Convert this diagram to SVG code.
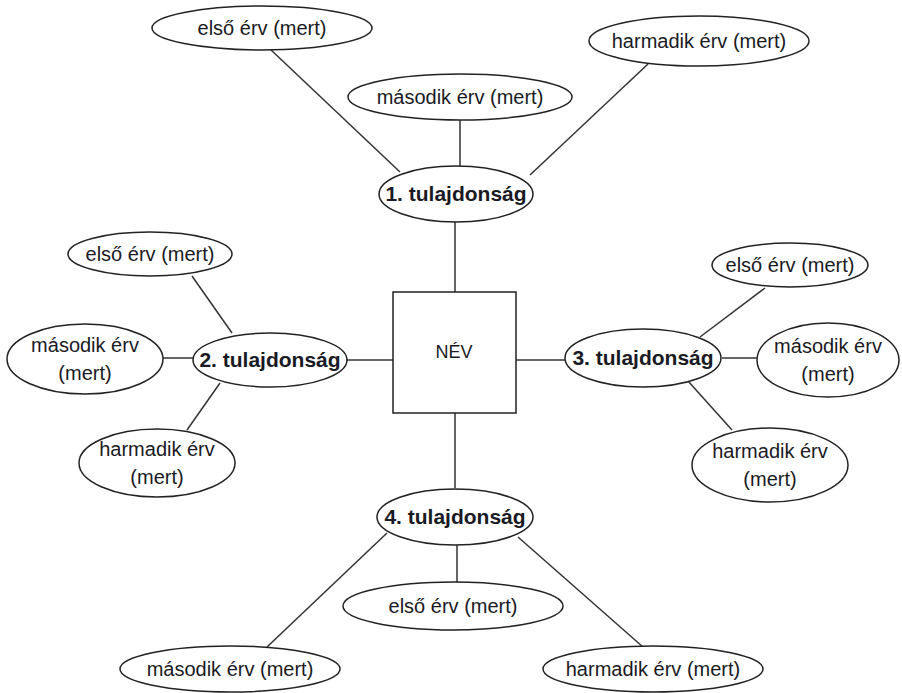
<svg xmlns="http://www.w3.org/2000/svg" width="902" height="693" viewBox="0 0 902 693">
<style>
.e{fill:#fff;stroke:#222;stroke-width:1.5}
.c line{stroke:#333;stroke-width:1.5}
text{font-family:"Liberation Sans",Arial,sans-serif;fill:#1a1a24;text-anchor:middle}
.t{font-size:20px}
.n{font-size:18px}
.b{font-size:21px;font-weight:bold}
</style>
<rect width="902" height="693" fill="#fff"/>
<g id="connectors" class="c">
<line x1="270" y1="49" x2="400" y2="172"/>
<line x1="460" y1="120" x2="460" y2="166"/>
<line x1="648" y1="64" x2="530" y2="175"/>
<line x1="455" y1="222" x2="455" y2="292"/>
<line x1="192" y1="276" x2="232" y2="333"/>
<line x1="163" y1="358" x2="193" y2="358"/>
<line x1="220" y1="383" x2="187" y2="430"/>
<line x1="347" y1="360" x2="393" y2="360"/>
<line x1="516" y1="360" x2="565" y2="360"/>
<line x1="700" y1="337" x2="765" y2="288"/>
<line x1="722" y1="358" x2="757" y2="358"/>
<line x1="688" y1="381" x2="732" y2="430"/>
<line x1="455" y1="413" x2="455" y2="488"/>
<line x1="457" y1="545" x2="457" y2="582"/>
<line x1="387" y1="533" x2="267" y2="647"/>
<line x1="518" y1="537" x2="643" y2="647"/>
</g>
<g id="nev"><rect x="393" y="292" width="123" height="121" fill="#fff" stroke="#222" stroke-width="1.5"/><text class="n" x="454" y="358">NÉV</text></g>
<g id="tul1"><ellipse class="e" cx="456" cy="194" rx="77" ry="28"/><text class="b" x="456" y="201">1. tulajdonság</text></g>
<g id="tul2"><ellipse class="e" cx="270" cy="360" rx="77" ry="27"/><text class="b" x="270" y="367">2. tulajdonság</text></g>
<g id="tul3"><ellipse class="e" cx="643" cy="358" rx="78" ry="29"/><text class="b" x="643" y="365">3. tulajdonság</text></g>
<g id="tul4"><ellipse class="e" cx="455" cy="517" rx="78" ry="28"/><text class="b" x="455" y="524">4. tulajdonság</text></g>
<g id="t1a"><ellipse class="e" cx="262" cy="28" rx="110" ry="22"/><text class="t" x="262" y="35">első érv (mert)</text></g>
<g id="t1b"><ellipse class="e" cx="460" cy="97" rx="112" ry="23"/><text class="t" x="460" y="104">második érv (mert)</text></g>
<g id="t1c"><ellipse class="e" cx="699" cy="41" rx="110" ry="25"/><text class="t" x="699" y="48">harmadik érv (mert)</text></g>
<g id="t2a"><ellipse class="e" cx="150" cy="254" rx="82" ry="22"/><text class="t" x="150" y="261">első érv (mert)</text></g>
<g id="t2b"><ellipse class="e" cx="85" cy="359" rx="78" ry="35"/><text class="t" x="85" y="352">második érv</text><text class="t" x="85" y="380">(mert)</text></g>
<g id="t2c"><ellipse class="e" cx="157" cy="463" rx="78" ry="34"/><text class="t" x="157" y="456">harmadik érv</text><text class="t" x="157" y="484">(mert)</text></g>
<g id="t3a"><ellipse class="e" cx="790" cy="265" rx="78" ry="22"/><text class="t" x="790" y="272">első érv (mert)</text></g>
<g id="t3b"><ellipse class="e" cx="828" cy="360" rx="71" ry="37"/><text class="t" x="828" y="353">második érv</text><text class="t" x="828" y="381">(mert)</text></g>
<g id="t3c"><ellipse class="e" cx="770" cy="465" rx="78" ry="37"/><text class="t" x="770" y="458">harmadik érv</text><text class="t" x="770" y="486">(mert)</text></g>
<g id="t4a"><ellipse class="e" cx="453" cy="606" rx="110" ry="24"/><text class="t" x="453" y="613">első érv (mert)</text></g>
<g id="t4b"><ellipse class="e" cx="230" cy="669" rx="110" ry="23"/><text class="t" x="230" y="676">második érv (mert)</text></g>
<g id="t4c"><ellipse class="e" cx="653" cy="669" rx="110" ry="23"/><text class="t" x="653" y="676">harmadik érv (mert)</text></g>
</svg>
